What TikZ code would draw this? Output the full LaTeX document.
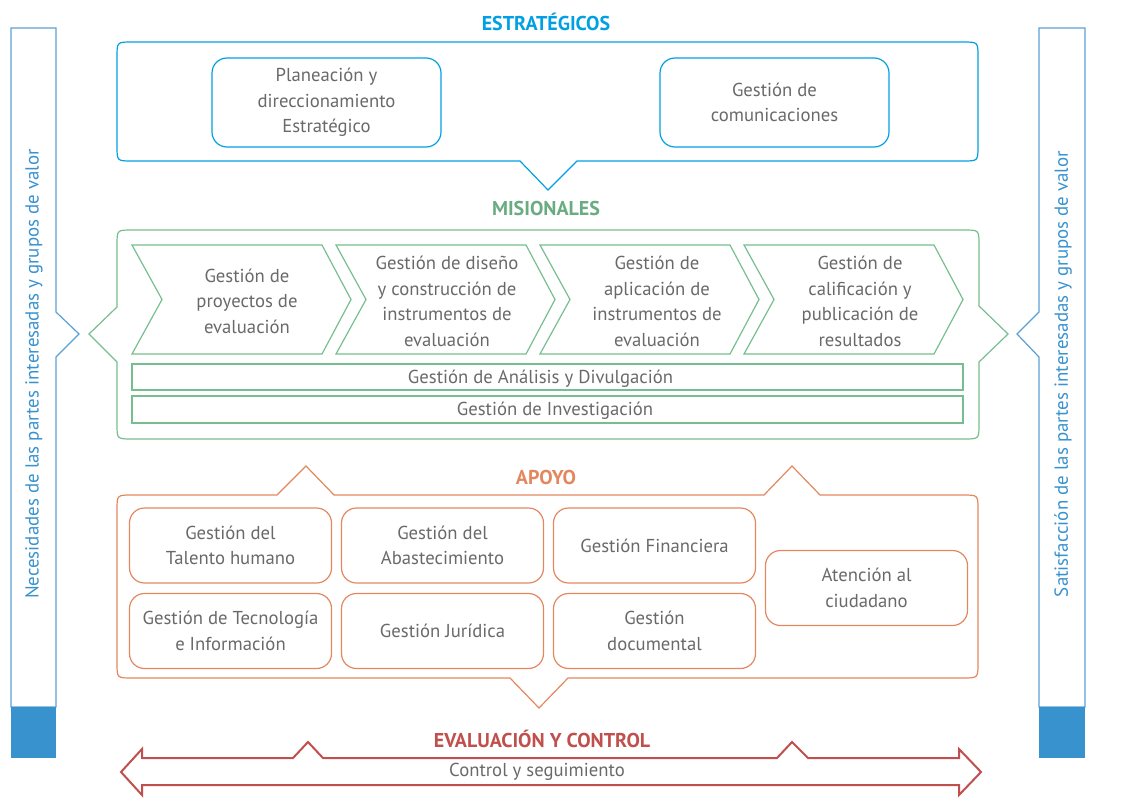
\documentclass[tikz,border=0pt]{standalone}
\usepackage{fontspec}
\setmainfont{PT Sans}
\definecolor{estblue}{RGB}{0,160,226}
\definecolor{misgreen}{RGB}{118,190,143}
\definecolor{apoorange}{RGB}{228,135,95}
\definecolor{evalred}{RGB}{192,80,77}
\definecolor{sideblue}{RGB}{56,146,206}
\definecolor{sideline}{RGB}{90,160,215}
\definecolor{textgray}{RGB}{105,105,105}
\tikzset{
  lbl/.style={text=textgray, font=\fontsize{18.7}{25.5}\selectfont, align=center, inner sep=0pt},
  ttl/.style={font=\fontsize{20}{24}\selectfont\bfseries, inner sep=0pt},
  estbox/.style={draw=estblue, line width=1.2pt, rounded corners=15pt, minimum width=229, minimum height=89, inner sep=0pt, lbl},
  apobox/.style={draw=apoorange, line width=1.2pt, rounded corners=15pt, minimum width=202, minimum height=75, inner sep=0pt, lbl},
  misbar/.style={draw=misgreen, line width=1.2pt, minimum width=831, inner sep=0pt},
  sidetxt/.style={text=sideblue, font=\fontsize{18.9}{22}\selectfont, rotate=90, inner sep=0pt}
}
\begin{document}
\begin{tikzpicture}[x=1pt,y=-1pt]
\useasboundingbox (0,0) rectangle (1123,811);

% side bars
\draw[sideline, line width=1.2pt] (11,28) -- (56,28) -- (56,312) -- (79,334) -- (56,357) -- (56,707) -- (11,707) -- cycle;
\fill[sideblue] (11,707) rectangle (56,758);
\node[sidetxt] (needs) at (34,374) {Necesidades de las partes interesadas y grupos de valor};
\draw[sideline, line width=1.2pt] (1039,28) -- (1085,28) -- (1085,707) -- (1039,707) -- (1039,357) -- (1017,334) -- (1039,312) -- cycle;
\fill[sideblue] (1039,707) rectangle (1085,758);
\node[sidetxt] (satis) at (1063,374) {Satisfacción de las partes interesadas y grupos de valor};

% ESTRATEGICOS
\node[ttl, text=estblue] (tEst) at (546,22) {ESTRATÉGICOS};
\draw[estblue, line width=1.2pt] (132,42) -- (963,42) .. controls (978,42) .. (978,57) -- (978,146) .. controls (978,161) .. (963,161) -- (577,161) -- (548,190) -- (520,161) -- (132,161) .. controls (117,161) .. (117,146) -- (117,57) .. controls (117,42) .. (132,42) -- cycle;
\node[estbox] (plan) at (326.5,102.5) {Planeación y\\direccionamiento\\Estratégico};
\node[estbox] (com) at (774.5,102.5) {Gestión de\\comunicaciones};

% MISIONALES
\node[ttl, text=misgreen!90!black] (tMis) at (546,208) {MISIONALES};
\draw[misgreen, line width=1.2pt] (132,230) -- (964,230) .. controls (979,230) .. (979,245) -- (979,306) -- (1008,334) -- (979,362) -- (979,424) .. controls (979,439) .. (964,439) -- (132,439) .. controls (117,439) .. (117,424) -- (117,362) -- (89,334) -- (117,307) -- (117,245) .. controls (117,230) .. (132,230) -- cycle;
\foreach \L/\n in {132/c1,336/c2,540/c3,744/c4}{
  \draw[misgreen, line width=1.2pt] (\L,245) -- (\L+190,245) -- (\L+219,299.5) -- (\L+190,354) -- (\L,354) -- (\L+30,299.5) -- cycle;
}
\node[lbl] (m1) at (247,301) {Gestión de\\proyectos de\\evaluación};
\node[lbl] (m2) at (447,301.5) {Gestión de diseño\\y construcción de\\instrumentos de\\evaluación};
\node[lbl] (m3) at (657,301.5) {Gestión de\\aplicación de\\instrumentos de\\evaluación};
\node[lbl] (m4) at (860,301.5) {Gestión de\\calificación y\\publicación de\\resultados};
\node[misbar, minimum height=26] (bar1) at (547.5,377) {};
\node[lbl] (b1) at (540.5,379) {Gestión de Análisis y Divulgación};
\node[misbar, minimum height=27] (bar2) at (547.5,409.5) {};
\node[lbl] (b2) at (555,410.5) {Gestión de Investigación};

% APOYO
\node[ttl, text=apoorange] (tApo) at (546,477) {APOYO};
\draw[apoorange, line width=1.2pt] (132,495) -- (277,495) -- (306,466) -- (334,495) -- (764,495) -- (792,466) -- (820,495) -- (963,495) .. controls (978,495) .. (978,510) -- (978,663) .. controls (978,678) .. (963,678) -- (568,678) -- (539,708) -- (510,678) -- (132,678) .. controls (117,678) .. (117,663) -- (117,510) .. controls (117,495) .. (132,495) -- cycle;
\node[apobox] (a1) at (230.5,545.5) {Gestión del\\Talento humano};
\node[apobox] (a2) at (442.5,545.5) {Gestión del\\Abastecimiento};
\node[apobox] (a3) at (654.5,545.5) {Gestión Financiera};
\node[apobox] (a4) at (230.5,631) {Gestión de Tecnología\\e Información};
\node[apobox] (a5) at (442.5,631) {Gestión Jurídica};
\node[apobox] (a6) at (654.5,631) {Gestión\\documental};
\node[apobox] (a7) at (866.5,588) {Atención al\\ciudadano};

% EVALUACION Y CONTROL
\node[ttl, text=evalred] (tEval) at (542,739) {EVALUACIÓN Y CONTROL};
\draw[evalred, line width=2pt, line join=miter] (121,772) -- (142,749) -- (142,758) -- (293,758) -- (308,742) -- (323,758) -- (777,758) -- (792,742) -- (808,758) -- (959,758) -- (959,749) -- (981,772) -- (959,795) -- (959,785) -- (142,785) -- (142,795) -- cycle;
\node[lbl] (ctrl) at (537,772) {Control y seguimiento};
\end{tikzpicture}
\end{document}
